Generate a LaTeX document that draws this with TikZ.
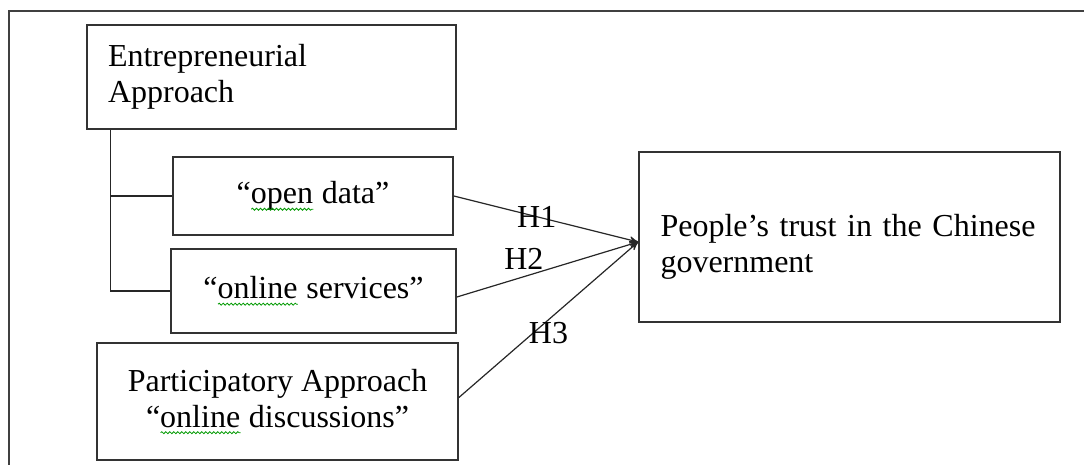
\documentclass[tikz,border=0pt]{standalone}
\usepackage{fontspec}
\setmainfont{Liberation Serif}
\usepackage{tikz}
\usetikzlibrary{arrows,decorations.pathmorphing}
% green spell-check wave under a word
\newsavebox{\splbox}
\newcommand{\spl}[1]{\sbox{\splbox}{#1}\rlap{\usebox{\splbox}}%
  \tikz[baseline=0pt]\draw[green!60!black,line width=0.4pt,decorate
  ,decoration={snake,amplitude=0.5pt,segment length=2pt}]
  (0pt,-2.8pt) -- (\wd\splbox,-2.8pt);}

\begin{document}
\begin{tikzpicture}[>=stealth'
	,x=0.5pt,y=-0.5pt
	,font=\fontsize{16}{18}\selectfont]
  \tikzstyle{blk}
  =[draw=black!80,line width=0.9pt,inner sep=0pt]
  \tikzstyle{hyp}=[->,line width=0.6pt,draw=black!85]
  \tikzstyle{brace}=[line width=0.6pt,draw=black!85]
  \tikzstyle{pageedge}=[line width=1.1pt,draw=black!75]

  \useasboundingbox (0,0) rectangle (1084,465);
  % frame, cut off right and below
  \draw[pageedge] (9,470) -- (9,11) -- (1090,11);

  % left column
  \node[blk,minimum width=184.5pt,minimum height=52pt
  ,text width=163.5pt,align=left](entap) at (271.5,77)
  {Entrepreneurial\\Approach};
  \node[blk,minimum width=140pt,minimum height=39pt](opdat) at (313,196)
  {``\spl{open} data''};
  \node[blk,minimum width=142.5pt,minimum height=42pt](onsrv) at (313.5,291)
  {``\spl{online} services''};
  \node[blk,minimum width=180.5pt,minimum height=58.5pt
  ,align=center](parap) at (277.5,401.5)
  {Participatory Approach\\``\spl{online} discussions''};
  % right box
  \node[blk,minimum width=210.5pt,minimum height=85pt
  ,text width=189pt,align=left](trust) at (849.5,237)
  {\rule{0pt}{21pt}\makebox[189pt][s]{People's trust in the Chinese}\\government};

  \coordinate (brk) at ([xshift=12pt]entap.south west);
  \coordinate (tip) at ([yshift=-2.5pt]trust.west);

  % bracket under entrepreneurial approach
  \draw[brace] (brk) |- (onsrv.west);
  \draw[brace] (brk |- opdat.west) -- (opdat.west);
  % hypotheses
  \draw [hyp] (opdat.east)              -- node[pos=0.45]      {H1} (tip);
  \draw [hyp] ([yshift=-3pt]onsrv.east) -- node[pos=0.37,above] {H2} (tip);
  \draw [hyp] ([yshift=2pt]parap.east)  -- node[pos=0.5,below,inner sep=1pt] {H3} (tip);
\end{tikzpicture}
\end{document}
